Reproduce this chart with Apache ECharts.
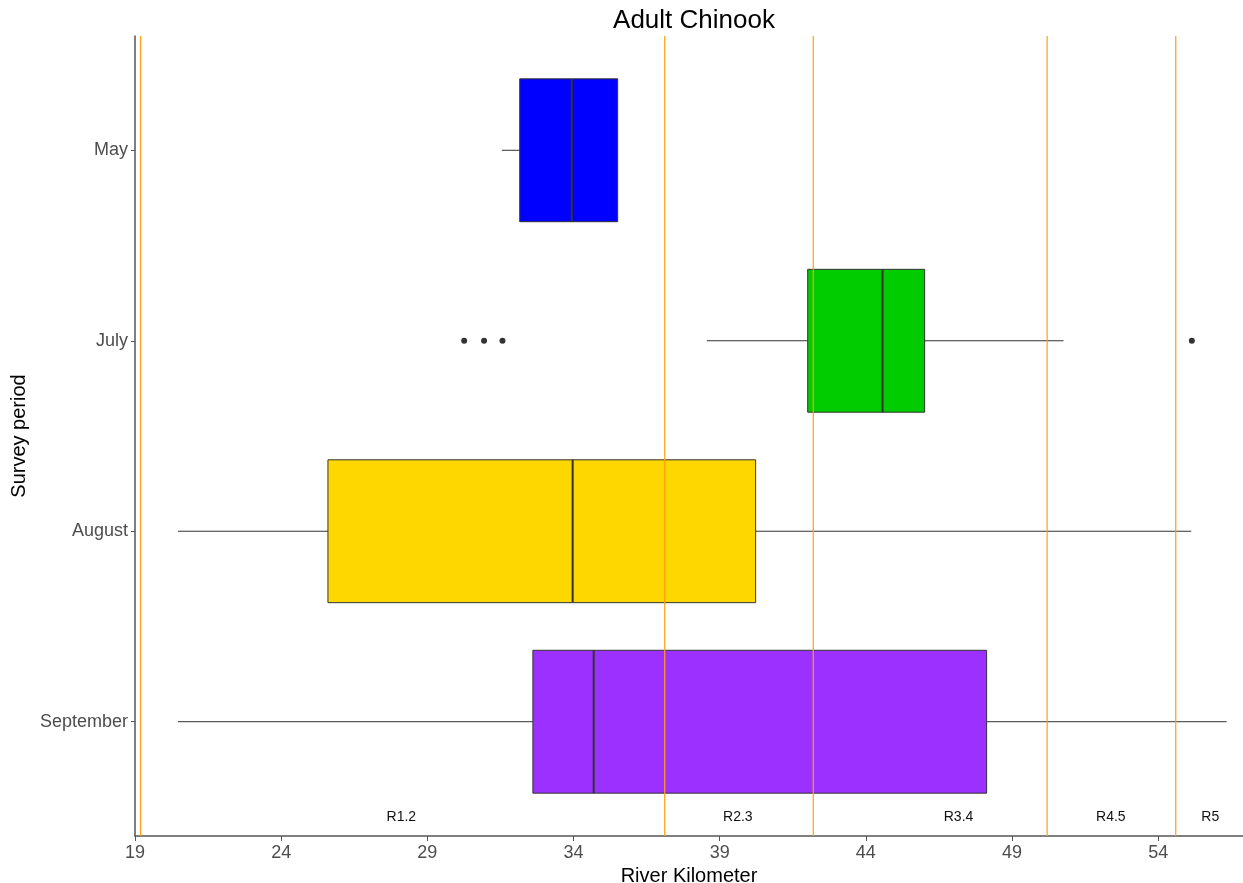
<!DOCTYPE html>
<html>
<head>
<meta charset="utf-8">
<script src="https://cdn.jsdelivr.net/npm/echarts@6/dist/echarts.min.js"></script>
<style>
html,body{margin:0;padding:0;background:#fff;}
#chart{width:1243px;height:883px;}
</style>
</head>
<body>
<div id="chart"></div>
<script>
// ---- data ----
const categories = ['May', 'July', 'August', 'September'];
const lowerWhisker = [31.55, 38.56, 20.47, 20.47];
const q1 = [32.16, 42.01, 25.60, 32.61];
const median = [33.94, 44.57, 33.97, 34.69];
const q3 = [35.51, 46.01, 40.23, 48.13];
const upperWhisker = [35.51, 50.76, 55.13, 56.34];
const boxColors = ['#0000FF', '#00CC00', '#FFD700', '#9B30FF'];
const outlierPeriod = ['July', 'July', 'July', 'July'];
const outlierKm = [30.26, 30.94, 31.57, 55.15];
const regionBoundaries = [19.19, 37.12, 42.2, 50.2, 54.6];
const regionLabels = ['R1.2', 'R2.3', 'R3.4', 'R4.5', 'R5'];
const regionLabelKm = [28.11, 39.62, 47.17, 52.38, 55.78];
const xTicks = [19, 24, 29, 34, 39, 44, 49, 54];
const yTicks = [1, 2, 3, 4];

const FONT = '"Liberation Sans", Arial, sans-serif';
const chart = echarts.init(document.getElementById('chart'), null, {renderer: 'canvas'});

const boxData = categories.map((c, i) => [i + 1, lowerWhisker[i], q1[i], median[i], q3[i], upperWhisker[i]]);
const outlierData = outlierKm.map((v, i) => [v, categories.indexOf(outlierPeriod[i]) + 1]);
const labelData = regionLabels.map((t, i) => [regionLabelKm[i], i]);
const boundaryData = regionBoundaries.map(v => [v]);

const option = {
  backgroundColor: '#ffffff',
  animation: false,
  title: {
    text: 'Adult Chinook',
    left: 689, top: 3, textAlign: 'center',
    textStyle: {fontFamily: FONT, fontSize: 26, fontWeight: 'normal', color: '#000'}
  },
  grid: {left: 135, right: 0, top: 36, bottom: 47, containLabel: false, outerBoundsMode: 'none'},
  xAxis: {
    type: 'value', min: 19, max: 56.9,
    name: 'River Kilometer', nameLocation: 'middle', nameGap: 27,
    nameTextStyle: {fontFamily: FONT, fontSize: 20, color: '#000'},
    axisLine: {show: true, lineStyle: {color: '#555', width: 1.5}},
    axisTick: {show: true, length: 5, customValues: xTicks, lineStyle: {color: '#555'}},
    axisLabel: {customValues: xTicks, margin: 8, fontFamily: FONT, fontSize: 18, color: '#4D4D4D'},
    splitLine: {show: false}
  },
  yAxis: {
    type: 'value', min: 0.4, max: 4.6, inverse: true,
    name: 'Survey period', nameLocation: 'middle', nameGap: 103, nameRotate: 90,
    nameTextStyle: {fontFamily: FONT, fontSize: 20, color: '#000'},
    axisLine: {show: true, lineStyle: {color: '#555', width: 1.5}},
    axisTick: {show: true, length: 4, customValues: yTicks, lineStyle: {color: '#555'}},
    axisLabel: {
      customValues: yTicks, margin: 7, fontFamily: FONT, fontSize: 18, color: '#4D4D4D',
      formatter: v => categories[Math.round(v) - 1] || ''
    },
    splitLine: {show: false}
  },
  series: [
    {
      type: 'custom',
      z: 2,
      data: boxData,
      encode: {x: [1, 2, 3, 4, 5], y: 0},
      renderItem: function (params, api) {
        const yi = api.value(0);
        const idx = params.dataIndex;
        const pLow = api.coord([api.value(1), yi]);
        const pQ1 = api.coord([api.value(2), yi]);
        const pMed = api.coord([api.value(3), yi]);
        const pQ3 = api.coord([api.value(4), yi]);
        const pHigh = api.coord([api.value(5), yi]);
        const h = Math.abs(api.size([0, 1])[1]) * 0.75;
        const y = pMed[1];
        const stroke = '#333333';
        return {
          type: 'group',
          children: [
            {type: 'line', shape: {x1: pLow[0], y1: y, x2: pQ1[0], y2: y}, style: {stroke: stroke, lineWidth: 1}},
            {type: 'line', shape: {x1: pQ3[0], y1: y, x2: pHigh[0], y2: y}, style: {stroke: stroke, lineWidth: 1}},
            {type: 'rect', shape: {x: pQ1[0], y: y - h / 2, width: pQ3[0] - pQ1[0], height: h},
              style: {fill: boxColors[idx], stroke: stroke, lineWidth: 1}},
            {type: 'line', shape: {x1: pMed[0], y1: y - h / 2, x2: pMed[0], y2: y + h / 2},
              style: {stroke: stroke, lineWidth: 2}}
          ]
        };
      }
    },
    {
      type: 'scatter',
      z: 3,
      symbol: 'circle',
      symbolSize: 6,
      itemStyle: {color: '#333333', opacity: 1},
      data: outlierData
    },
    {
      type: 'custom',
      z: 4,
      silent: true,
      data: boundaryData,
      encode: {x: 0},
      renderItem: function (params, api) {
        const top = api.coord([api.value(0), 0.4]);
        const bot = api.coord([api.value(0), 4.6]);
        return {
          type: 'line',
          shape: {x1: top[0], y1: top[1], x2: bot[0], y2: bot[1]},
          style: {stroke: '#FF9F10', lineWidth: 1.2}
        };
      }
    },
    {
      type: 'custom',
      z: 5,
      silent: true,
      data: labelData,
      encode: {x: 0},
      renderItem: function (params, api) {
        const p = api.coord([api.value(0), 4.5]);
        return {
          type: 'text',
          style: {
            text: regionLabels[api.value(1)],
            x: p[0], y: p[1],
            align: 'center', verticalAlign: 'middle',
            font: '14px ' + FONT,
            fill: '#111'
          }
        };
      }
    }
  ]
};
chart.setOption(option);
</script>
</body>
</html>
